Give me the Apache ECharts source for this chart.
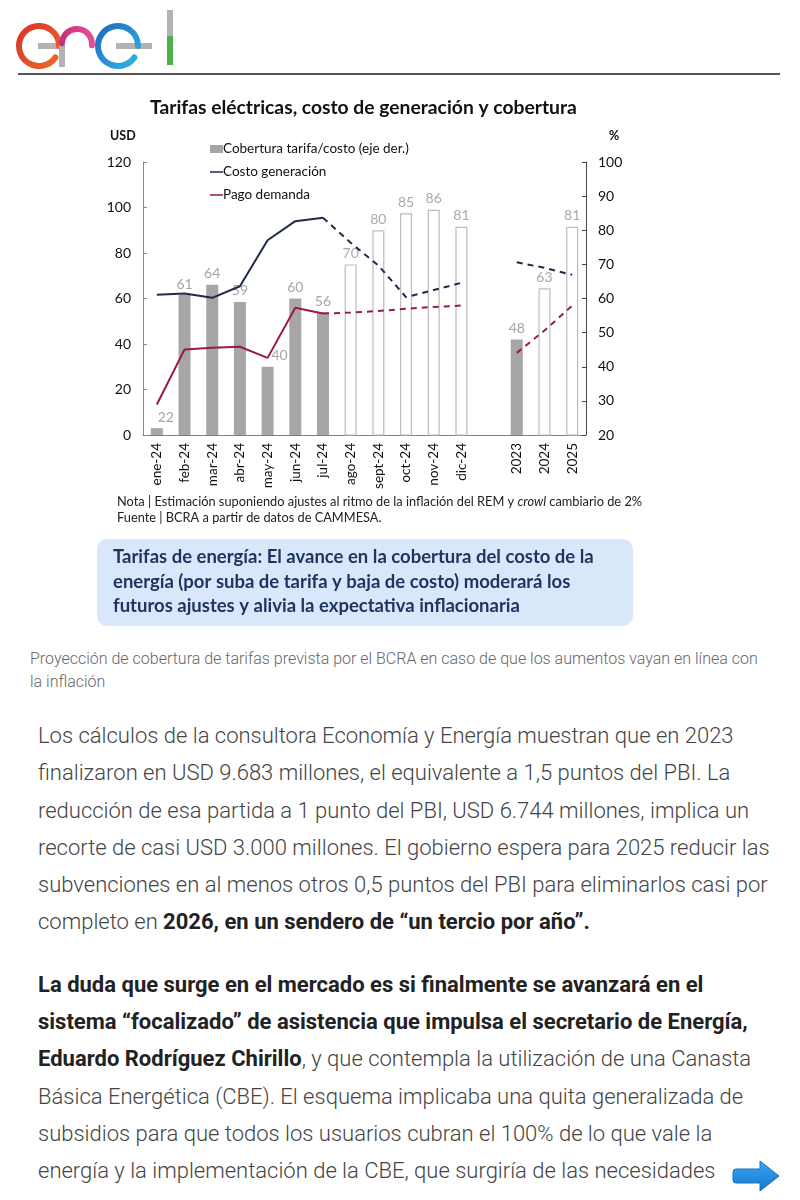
<!DOCTYPE html>
<html><head><meta charset="utf-8">
<script src="https://cdn.jsdelivr.net/npm/echarts@6/dist/echarts.min.js"></script>
<style>
html,body{margin:0;padding:0;background:#fff;}
body{width:800px;height:1200px;position:relative;overflow:hidden;}
#rule{position:absolute;left:18px;top:73px;width:762px;height:2px;background:#555;}
#chart{position:absolute;left:0;top:0;width:800px;height:640px;}
#caption{position:absolute;left:30px;top:647px;width:770px;font-family:Roboto,sans-serif;font-weight:300;font-size:16px;line-height:23px;color:#666;white-space:nowrap;}
#body{position:absolute;left:38px;top:717px;width:760px;font-family:Roboto,sans-serif;font-weight:300;font-size:22px;line-height:37.3px;color:#444;white-space:nowrap;}
#body b{font-weight:700;color:#222;}
#body p{margin:0 0 25px 0;}
#arrow{position:absolute;left:732px;top:1158px;}
</style></head>
<body>
<div id="rule"></div>
<div id="chart"></div>
<div id="caption">Proyección de cobertura de tarifas prevista por el BCRA en caso de que los aumentos vayan en línea con<br>la inflación</div>
<div id="body">
<p>Los cálculos de la consultora Economía y Energía muestran que en 2023<br>finalizaron en USD 9.683 millones, el equivalente a 1,5 puntos del PBI. La<br>reducción de esa partida a 1 punto del PBI, USD 6.744 millones, implica un<br>recorte de casi USD 3.000 millones. El gobierno espera para 2025 reducir las<br>subvenciones en al menos otros 0,5 puntos del PBI para eliminarlos casi por<br>completo en <b>2026, en un sendero de “un tercio por año”.</b></p>
<p><b>La duda que surge en el mercado es si finalmente se avanzará en el<br>sistema “focalizado” de asistencia que impulsa el secretario de Energía,<br>Eduardo Rodríguez Chirillo</b>, y que contempla la utilización de una Canasta<br>Básica Energética (CBE). El esquema implicaba una quita generalizada de<br>subsidios para que todos los usuarios cubran el 100% de lo que vale la<br>energía y la implementación de la CBE, que surgiría de las necesidades</p>
</div>
<svg id="arrow" width="50" height="36" viewBox="0 0 50 36">
<defs><linearGradient id="ag" x1="0" y1="0" x2="0" y2="1"><stop offset="0" stop-color="#3aa6f0"/><stop offset="1" stop-color="#1677d2"/></linearGradient></defs>
<path d="M4,11 L28,11 L28,3 L47,18 L28,33 L28,25 L4,25 Q1,25 1,22 L1,14 Q1,11 4,11 Z" fill="url(#ag)" stroke="#1a6fc0" stroke-width="1"/>
</svg>
<script>
// ---- data ----
const categories = ['ene-24','feb-24','mar-24','abr-24','may-24','jun-24','jul-24','ago-24','sept-24','oct-24','nov-24','dic-24','','2023','2024','2025'];
const coverageActual   = [22,61,64,59,40,60,56,null,null,null,null,null,null,48,null,null];
const coverageEstimate = [null,null,null,null,null,null,null,70,80,85,86,81,null,null,63,81];
const costActual   = [61.6,62.2,60.3,65.4,85.6,94,95.5,null,null,null,null,null,null,null,null,null];
const costEstimate = [null,null,null,null,null,null,95.5,84.5,74.5,60.6,63.7,66.9,null,75.9,73.5,70.4];
const payActual    = [13.4,37.6,38.3,38.8,33.9,55.9,53.4,null,null,null,null,null,null,null,null,null];
const payEstimate  = [null,null,null,null,null,null,53.4,53.8,54.5,55.5,56.3,56.9,null,36.1,45.9,56.9];
const leftTicks = {min:0,max:120,interval:20};
const rightTicks = {min:20,max:100,interval:10};
const names = ['Cobertura tarifa/costo (eje der.)','Costo generación','Pago demanda'];

const NAVY='#1f2a4d', RED='#9b1c3c', GREY='#a6a6a6';
const FONT='Lato, "Open Sans", sans-serif';
const LINE_ICON='path://M0,0L0.01,0L0,0.01Z M0,3.3L13,3.3L13,4.8L0,4.8Z M13,8L12.99,8L13,7.99Z';
// labels that sit beside the line are nudged right
const shiftedLabels = [0,4];
const actualBarData = coverageActual.map((v,i)=> shiftedLabels.includes(i) ? {value:v, label:{offset:[i===0?9:12,0]}} : v);

const grey='#b3b3b3';
function arcEl(cx,cy,r,a0,a1,stroke){
  return {type:'arc', shape:{cx:cx,cy:cy,r:r,startAngle:a0*Math.PI/180,endAngle:a1*Math.PI/180,clockwise:true},
    style:{stroke:stroke,lineWidth:6,fill:null,lineCap:'round'}};
}
function lineEl(x1,y1,x2,y2,stroke){
  return {type:'line', shape:{x1:x1,y1:y1,x2:x2,y2:y2}, style:{stroke:stroke,lineWidth:6,lineCap:'butt'}};
}
const redG={type:'linear',x:0,y:0,x2:1,y2:1,colorStops:[{offset:0,color:'#d8302c'},{offset:1,color:'#ef6b2a'}]};
const pinkG={type:'linear',x:0,y:0,x2:1,y2:0,colorStops:[{offset:0,color:'#c42f78'},{offset:1,color:'#e6509a'}]};
const blueG={type:'linear',x:0,y:0,x2:1,y2:1,colorStops:[{offset:0,color:'#1b66bd'},{offset:1,color:'#33b9e6'}]};
const logo = [
  lineEl(38,46,63,46,grey),
  arcEl(39,46,20,35,360,redG),
  lineEl(62,45,62,67,grey),
  arcEl(77,44,15,183,365,pinkG),
  lineEl(116,46,152,46,grey),
  arcEl(118,46,20,35,360,blueG),
  lineEl(170,10,170,36,grey),
  lineEl(170,36,170,65,'#4fb04a')
];

const chart = echarts.init(document.getElementById('chart'), null, {renderer:'canvas'});
chart.setOption({
  animation:false,
  textStyle:{fontFamily:FONT},
  grid:{left:143, top:162, width:443, height:273, containLabel:false},
  legend:{
    data:[{name:names[0],icon:'rect'},{name:names[1],icon:LINE_ICON},{name:names[2],icon:LINE_ICON}],
    orient:'vertical', left:205, top:137, itemWidth:13, itemHeight:8, itemGap:9,
    textStyle:{fontSize:13.5, color:'#111', fontFamily:FONT, padding:[0,0,0,-5]}
  },
  xAxis:{type:'category', data:categories, boundaryGap:true,
    axisLine:{lineStyle:{color:'#808080'}}, axisTick:{show:false},
    axisLabel:{rotate:90, fontSize:13.5, color:'#111', margin:8, interval:0, fontFamily:FONT}},
  yAxis:[
    {type:'value', position:'left', min:leftTicks.min, max:leftTicks.max, interval:leftTicks.interval,
     splitLine:{show:false}, axisLine:{show:true,lineStyle:{color:'#888'}},
     axisTick:{show:true, inside:true, length:4, lineStyle:{color:'#888'}},
     axisLabel:{fontSize:14, color:'#111', margin:12, fontFamily:FONT}},
    {type:'value', position:'right', min:rightTicks.min, max:rightTicks.max, interval:rightTicks.interval,
     splitLine:{show:false}, axisLine:{show:true,lineStyle:{color:'#444'}},
     axisTick:{show:true, inside:true, length:4, lineStyle:{color:'#444'}},
     axisLabel:{fontSize:14, color:'#111', margin:12, fontFamily:FONT}}
  ],
  series:[
    {name:names[0], type:'bar', yAxisIndex:1, data:actualBarData, barWidth:12, barGap:'-100%',
     itemStyle:{color:GREY},
     label:{show:true, position:'top', color:'#a6a6a6', fontSize:14, distance:4, fontFamily:FONT}},
    {name:names[0], type:'bar', yAxisIndex:1, data:coverageEstimate, barWidth:12, barGap:'-100%',
     itemStyle:{color:'#fff', borderColor:'#bdbdbd', borderWidth:1.2},
     label:{show:true, position:'top', color:'#aaaaaa', fontSize:14, distance:4, fontFamily:FONT}},
    {name:names[1], type:'line', yAxisIndex:0, data:costActual, symbol:'none', showSymbol:false,
     lineStyle:{color:NAVY, width:2}, itemStyle:{color:NAVY}, z:5},
    {name:names[1], type:'line', yAxisIndex:0, data:costEstimate, symbol:'none', showSymbol:false,
     lineStyle:{color:NAVY, width:2, type:[6,5]}, itemStyle:{color:NAVY}, z:5},
    {name:names[2], type:'line', yAxisIndex:0, data:payActual, symbol:'none', showSymbol:false,
     lineStyle:{color:RED, width:2}, itemStyle:{color:RED}, z:5},
    {name:names[2], type:'line', yAxisIndex:0, data:payEstimate, symbol:'none', showSymbol:false,
     lineStyle:{color:RED, width:2, type:[6,5]}, itemStyle:{color:RED}, z:5}
  ],
  graphic:logo.concat([
    {type:'text', left:150, top:98, style:{text:'Tarifas eléctricas, costo de generación y cobertura', font:'bold 19.3px '+FONT, fill:'#111'}, z:10},
    {type:'text', x:110, y:129, style:{text:'USD', font:'bold 12.5px '+FONT, fill:'#111'}},
    {type:'text', x:609, y:129, style:{text:'%', font:'bold 12.5px '+FONT, fill:'#111'}},
    {type:'text', x:117, y:495, style:{
      text:'Nota | Estimación suponiendo ajustes al ritmo de la inflación del REM y {i|crowl} cambiario de 2%',
      font:'12.8px '+FONT, fill:'#222', rich:{i:{fontStyle:'italic', fontSize:12.8, fontFamily:FONT, fill:'#222'}}}},
    {type:'text', x:117, y:511, style:{text:'Fuente | BCRA a partir de datos de CAMMESA.', font:'12.8px '+FONT, fill:'#222'}},
    {type:'rect', shape:{x:97, y:539, width:536, height:87, r:10}, style:{fill:'#d9e7fb'}},
    {type:'text', x:113, y:545, style:{text:'Tarifas de energía: El avance en la cobertura del costo de la\nenergía (por suba de tarifa y baja de costo) moderará los\nfuturos ajustes y alivia la expectativa inflacionaria',
      font:'bold 18.5px '+FONT, fill:'#1f3560', lineHeight:24.5}}
  ])
});
</script>
</body></html>
